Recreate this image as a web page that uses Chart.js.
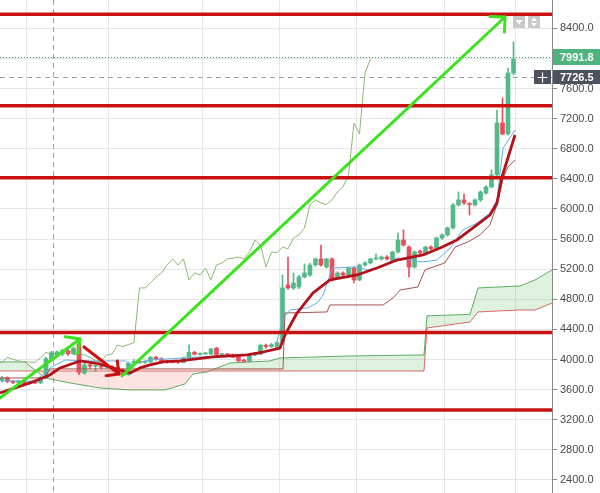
<!DOCTYPE html>
<html><head><meta charset="utf-8">
<script src="https://cdn.jsdelivr.net/npm/chart.js@4.4.1/dist/chart.umd.min.js"></script>
<style>html,body{margin:0;padding:0;background:#fff}#wrap{width:600px;height:493px;position:relative}</style>
</head><body><div id="wrap"><canvas id="c"></canvas></div>
<script>
// ---- candles (index = candle number) ----
const opens = [3720,3755,3712,3695,3712,3685,3700,3690,3760,4010, 4060,4075,4110,4080,4210,3820,3930,3912,3920,3900, 3908,3890,3860,3800,3950,3968,3960,3968,4030,4010, 3978,3970,3965,3960,4022,4095,4070,4076,4075,4150, 4065,4070,4062,4040,3990,3975,4060,4072,4190,4172, 4175,4225,4990,4950,4964,5097,5123,5256,5336,5229, 5336,5083,5150,5123,5216,5057,5256,5283,5336,5336, 5362,5322,5429,5588,5495,5229,5440,5416,5495,5475, 5615,5655,5748,6053,6120,6070,6053,6120,6212,6292, 6452,7142,6996,7807];
const highs = [3775,3770,3725,3725,3720,3712,3715,3775,4030,4110, 4115,4135,4130,4165,4265,3960,3945,3930,3935,3925, 3918,3905,3880,3965,4000,3980,3985,4040,4045,4025, 3990,3985,3982,4030,4195,4110,4090,4092,4150,4165, 4080,4082,4075,4050,4005,4072,4095,4205,4205,4215, 4240,5123,5362,5150,5120,5270,5280,5350,5522,5345, 5350,5165,5165,5230,5235,5270,5300,5345,5400,5375, 5380,5440,5681,5721,5510,5445,5455,5505,5510,5625, 5670,5760,6070,6226,6200,6085,6135,6240,6310,6518, 7315,7474,7873,8218];
const lows = [3700,3690,3680,3680,3665,3675,3680,3680,3745,3985, 4030,4050,4055,4065,3800,3805,3880,3840,3880,3885, 3870,3830,3785,3790,3935,3950,3948,3960,3990,3970, 3950,3955,3948,3955,4010,4060,4058,4062,4065,4055, 4050,4052,4025,3970,3960,3962,4050,4062,4150,4160, 4160,4200,4930,4930,4940,5085,5105,5240,5240,5215, 5040,5070,5110,5110,5017,5045,5240,5270,5325,5320, 5320,5310,5415,5505,5097,5215,5400,5400,5455,5460, 5600,5640,5735,6040,6060,5920,6040,6100,6195,6280, 6440,6985,6980,7780];
const closes = [3755,3710,3695,3712,3685,3698,3688,3762,4010,4090, 4100,4120,4075,4150,3830,3930,3912,3920,3900,3910, 3890,3845,3800,3950,3972,3960,3966,4030,4002,3982, 3972,3965,3962,4022,4095,4070,4078,4082,4140,4065, 4070,4062,4030,3982,3975,4060,4072,4190,4172,4198, 4225,4951,4951,5017,5097,5150,5256,5336,5256,5336, 5057,5150,5123,5216,5057,5256,5283,5336,5345,5362, 5336,5429,5588,5521,5229,5429,5420,5495,5470,5615, 5655,5748,6053,6120,6080,6060,6120,6226,6292,6452, 7142,6996,7807,7991.8];

// ---- thick red moving average ----
const maIdx = [-0.36,5.09,8.73,10.55,14.18,17.82,21.45,23.27,25.09,26.91,29.27,32.36,38.36,44.55,47.45,50.55,51.45,53.64,56.55,59.64,64.55,68.18,71.82,76.55,79.64,82.73,85.64,88.73,90,90.91,93.27];
const maVal = [3556,3689,3795,3888,3981,3941,3861,3821,3888,3928,3968,3981,4034,4061,4100,4153,4326,4618,4884,5057,5123,5216,5322,5389,5482,5588,5748,5920,6080,6425,6983];
// ---- conversion line (blue) ----
const tenkanIdx = [0,6.9,8.7,11.5,15.1,22.4,23.3,26.9,36,45.1,49.6,51.1,52.4,55.5,57.3,58.4,59.3,60,64.5,66.4,68.7,71.8,74.2,76.5,79.1,81.5,83.8,86.4,88.7,90,91.1,93.3];
const tenkanVal = [3715,3715,3888,3994,3981,3981,3928,3994,4034,4061,4127,4552,4658,4685,4751,4858,5057,5216,5229,5190,5229,5349,5322,5296,5322,5482,5721,5814,5947,6120,6810,7049];
// ---- base line (maroon) ----
const kijunIdx = [-0.36,7.8,8.7,51.1,51.45,59.1,59.6,69.3,71.1,72.4,75.6,76.9,80.5,82.4,84.7,86.9,88.7,90,91.1,92,93.3];
const kijunVal = [3755,3755,3875,3875,4618,4632,4725,4725,4818,4924,4964,5190,5283,5495,5562,5655,5787,6053,6412,6558,6651];
// ---- cloud ----
const cloudIdx = [-0.36,4.18,7.82,12.36,17.82,23.27,29.64,33.27,34.73,37.27,39.09,41.45,48.73,50.55,63.27,76.73,77.27,85.09,86.55,94.18,96.91,100];
const spanA = [3968,3968,3755,3689,3622,3596,3596,3675,3808,3835,3888,3954,3981,4021,4047,4061,4580,4600,4951,4977,5057,5190];
const spanB = [3848,3848,3848,3848,3848,3848,3848,3848,3848,3848,3848,3848,3848,3848,3848,3848,4419,4499,4632,4658,4658,4751];
const lagShift = 26;

// ---- drawings ----
const hLevels = [8586, 7372, 6414, 4359, 3330];
const greenBigArrow = [[21.82, 3782], [91.45, 8550]];
const greenSmallArrow = [[-1.5, 3428], [14.18, 4273]];
const redArrow = [[14.91, 4167], [21.27, 3808]];
const lastPrice = 7991.8;
const crossPrice = 7726.5;
const crossIdx = 9.27;

// ---- axes ----
const yTicks = [2400,2800,3200,3600,4000,4400,4800,5200,5600,6000,6400,6800,7200,7600,8000,8400];
const xGridIdx = [4.49, 19.33, 36.5, 50.4, 64.4, 80.4, 93.45];
const yMin = 2227, yMax = 8776, xMin = -0.36, xMax = 100;

const UP = '#53b987', DOWN = '#eb4d5c';
const candleColor = c => closes[c.dataIndex] >= opens[c.dataIndex] ? UP : DOWN;
const idx = opens.map((_, i) => i);
const pts = (xs, ys) => xs.map((v, k) => ({x: v, y: ys[k]}));
const chikou = closes.map((c, i) => ({x: i - lagShift, y: c})).filter(p => p.x >= -1);

const lineDs = (data, color, width, order, extra) => Object.assign({
  type: 'line', data, borderColor: color, borderWidth: width, pointRadius: 0,
  tension: 0, fill: false, order, clip: 0, borderJoinStyle: 'round', borderCapStyle: 'butt'
}, extra || {});

const datasets = [
  lineDs(pts(cloudIdx, spanA), 'rgba(67,160,71,0.85)', 1, 20,
    {fill: {target: '+1', above: 'rgba(76,175,80,0.18)', below: 'rgba(244,67,54,0.15)'}}),
  lineDs(pts(cloudIdx, spanB), 'rgba(214,70,70,0.8)', 1, 19),
  lineDs(chikou, '#8cba70', 1, 18),
  {type: 'bar', data: idx.map(i => ({x: i, y: [lows[i], highs[i]]})), backgroundColor: candleColor,
   barThickness: 1, grouped: false, order: 16},
  {type: 'bar', data: idx.map(i => ({x: i, y: [opens[i], closes[i]]})), backgroundColor: candleColor,
   barThickness: 4, minBarLength: 1, grouped: false, order: 15},
  lineDs(pts(kijunIdx, kijunVal), '#a5524e', 1, 12),
  lineDs(pts(tenkanIdx, tenkanVal), '#62aee8', 1, 11),
  lineDs(pts(maIdx, maVal), '#b3121a', 2.8, 10),
];
hLevels.forEach(v => datasets.push(lineDs([{x: -1, y: v}, {x: 101, y: v}], '#c81212', 3.5, 5)));
const arrows = [
  {p: greenBigArrow, color: '#3be21e', len: 15},
  {p: greenSmallArrow, color: '#3be21e', len: 15},
  {p: redArrow, color: '#cc1111', len: 13}
];
arrows.forEach(a => datasets.push(lineDs(a.p.map(q => ({x: q[0], y: q[1]})), a.color, 3, 1, {borderCapStyle: 'round'})));

const overlay = {
  id: 'overlay',
  beforeDatasetsDraw(chart) {
    const {ctx, chartArea: a, scales: {x, y}} = chart;
    ctx.save();
    ctx.beginPath(); ctx.rect(a.left, a.top, a.width, a.height); ctx.clip();
    ctx.lineWidth = 1;
    const yl = Math.round(y.getPixelForValue(lastPrice)) - 1.5;
    ctx.strokeStyle = '#3fa372'; ctx.setLineDash([1, 2]);
    ctx.beginPath(); ctx.moveTo(a.left, yl); ctx.lineTo(a.right, yl); ctx.stroke();
    const yc = Math.round(y.getPixelForValue(crossPrice)) - 1.5;
    const xc = Math.round(x.getPixelForValue(crossIdx)) + 0.5;
    ctx.strokeStyle = '#a0a0a0'; ctx.setLineDash([5, 4]);
    ctx.beginPath(); ctx.moveTo(a.left, yc); ctx.lineTo(a.right, yc);
    ctx.moveTo(xc, a.top); ctx.lineTo(xc, a.bottom); ctx.stroke();
    ctx.restore();
  },
  afterDatasetsDraw(chart) {
    const {ctx, chartArea: a, scales: {x, y}} = chart;
    ctx.save();
    ctx.beginPath(); ctx.rect(a.left, a.top, a.width, a.height); ctx.clip();
    arrows.forEach(ar => {
      const x0 = x.getPixelForValue(ar.p[0][0]), y0 = y.getPixelForValue(ar.p[0][1]);
      const x1 = x.getPixelForValue(ar.p[1][0]), y1 = y.getPixelForValue(ar.p[1][1]);
      const ang = Math.atan2(y1 - y0, x1 - x0) + Math.PI;
      ctx.strokeStyle = ar.color; ctx.lineWidth = 3; ctx.lineCap = 'round';
      ctx.beginPath();
      [-Math.PI / 4, Math.PI / 4].forEach(d => {
        ctx.moveTo(x1, y1);
        ctx.lineTo(x1 + ar.len * Math.cos(ang + d), y1 + ar.len * Math.sin(ang + d));
      });
      ctx.stroke();
    });
    ctx.restore();
  },
  afterDraw(chart) {
    const {ctx, chartArea: a, scales: {y}} = chart;
    ctx.save();
    ctx.font = 'bold 11px "Liberation Sans", Arial, sans-serif';
    ctx.textBaseline = 'middle'; ctx.textAlign = 'left';
    const yl = y.getPixelForValue(lastPrice) - 2;
    ctx.fillStyle = '#4fb380'; ctx.fillRect(a.right + 1, Math.round(yl) - 8, 48, 16);
    ctx.fillStyle = '#fff'; ctx.fillText(lastPrice.toFixed(1), a.right + 8, yl + 0.5);
    const yc = y.getPixelForValue(crossPrice) - 2;
    ctx.fillStyle = '#4b525d';
    ctx.fillRect(a.right - 18, Math.round(yc) - 7, 17, 14);
    ctx.fillRect(a.right + 1, Math.round(yc) - 7, 48, 14);
    ctx.fillStyle = '#fff'; ctx.fillText(crossPrice.toFixed(1), a.right + 8, yc + 0.5);
    ctx.strokeStyle = '#fff'; ctx.lineWidth = 1.2;
    const cx = a.right - 9.5, cy = Math.round(yc) + 0.5;
    ctx.beginPath(); ctx.moveTo(cx - 5, cy); ctx.lineTo(cx + 5, cy); ctx.moveTo(cx, cy - 5); ctx.lineTo(cx, cy + 5); ctx.stroke();
    // scroll buttons
    ctx.fillStyle = '#c9c9cc';
    ctx.fillRect(513, 16, 12, 12); ctx.fillRect(528, 16, 12, 12);
    ctx.fillStyle = '#fff';
    ctx.beginPath(); ctx.moveTo(515.5, 20); ctx.lineTo(522.5, 20); ctx.lineTo(519, 24.5); ctx.fill();
    ctx.beginPath(); ctx.moveTo(531, 21); ctx.lineTo(537, 21); ctx.lineTo(534, 17.5); ctx.fill();
    ctx.beginPath(); ctx.moveTo(531, 23); ctx.lineTo(537, 23); ctx.lineTo(534, 26.5); ctx.fill();
    ctx.restore();
  }
};

Chart.defaults.font.family = '"Liberation Sans", Arial, sans-serif';
new Chart(document.getElementById('c'), {
  type: 'bar',
  data: {datasets},
  options: {
    responsive: true, maintainAspectRatio: false, animation: false, events: [],
    layout: {padding: 0},
    plugins: {legend: {display: false}, tooltip: {enabled: false}},
    scales: {
      x: {
        type: 'linear', min: xMin, max: xMax, offset: false,
        grid: {color: '#e6e6e6', drawTicks: false, offset: false},
        border: {display: false},
        ticks: {display: false},
        afterBuildTicks: s => { s.ticks = xGridIdx.map(v => ({value: v})); },
        afterFit: s => { s.height = 0; s.paddingLeft = 0; s.paddingRight = 0; }
      },
      y: {
        type: 'linear', position: 'right', min: yMin, max: yMax,
        grid: {color: '#e6e6e6', tickLength: 5, tickColor: '#8a8a8a'},
        border: {display: true, color: '#8a8a8a'},
        ticks: {color: '#4a4a4a', font: {size: 11}, padding: 3, callback: v => Number(v).toFixed(1)},
        afterBuildTicks: s => { s.ticks = yTicks.map(v => ({value: v})); },
        afterFit: s => { s.width = 48; s.paddingTop = 0; s.paddingBottom = 0; }
      }
    }
  },
  plugins: [overlay]
});
</script>
</body></html>
